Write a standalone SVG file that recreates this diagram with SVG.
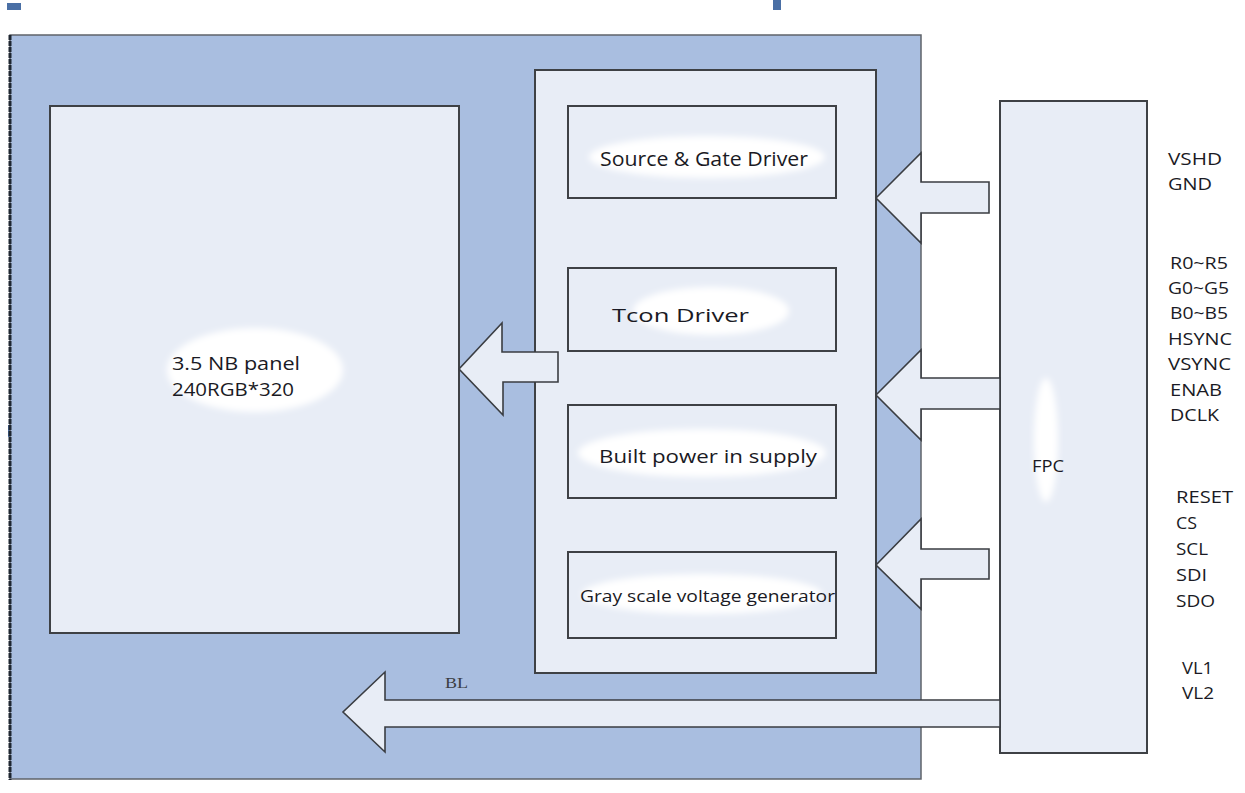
<svg xmlns="http://www.w3.org/2000/svg" width="1245" height="793" viewBox="0 0 1245 793">
  <style>
    .box { fill: #e8edf6; stroke: #3e4145; stroke-width: 2; }
    .arrow { fill: #e8edf6; stroke: #3a3d42; stroke-width: 1.6; stroke-linejoin: miter; }
    .lbl { font-family: "Open Sans", "Noto Sans", "DejaVu Sans", sans-serif; fill: #1a1a24; }
    .pin { font-family: "Open Sans", "Noto Sans", "DejaVu Sans", sans-serif; font-size: 16px; fill: #1a1a24; }
    .smudge { fill: #ffffff; filter: url(#soft); }
  </style>
  <defs>
    <filter id="soft" x="-20%" y="-50%" width="140%" height="200%">
      <feGaussianBlur stdDeviation="3"/>
    </filter>
  </defs>

  <rect x="0" y="0" width="1245" height="793" fill="#ffffff"/>

  <!-- small page markers -->
  <rect x="7" y="3" width="14" height="7" fill="#4a6fa5"/>
  <rect x="773" y="0" width="8" height="10" fill="#4a6fa5"/>
  <rect x="8" y="425" width="12" height="12" fill="#4a6fa5"/>

  <!-- module frame -->
  <g id="module">
    <rect x="10" y="35" width="911" height="744" fill="#a9bee0" stroke="#5f636a" stroke-width="1.5"/>
    <line x1="10" y1="35" x2="10" y2="780" stroke="#1e2630" stroke-width="3" stroke-dasharray="5 1"/>
  </g>

  <!-- LCD panel -->
  <g id="panel">
    <rect class="box" x="50" y="106" width="409" height="527"/>
    <ellipse class="smudge" cx="255" cy="370" rx="88" ry="42"/>
    <text class="lbl" x="172" y="370" font-size="18" textLength="128" lengthAdjust="spacingAndGlyphs">3.5 NB panel</text>
    <text class="lbl" x="172" y="396" font-size="18" textLength="122" lengthAdjust="spacingAndGlyphs">240RGB*320</text>
  </g>

  <!-- driver IC -->
  <g id="driver-ic">
    <rect class="box" x="535" y="70" width="341" height="603"/>
  </g>

  <g id="source-gate">
    <rect class="box" x="568" y="106" width="268" height="92"/>
    <ellipse class="smudge" cx="707" cy="157" rx="118" ry="21"/>
    <text class="lbl" x="600" y="166" font-size="20" textLength="208" lengthAdjust="spacingAndGlyphs">Source &amp; Gate Driver</text>
  </g>

  <g id="tcon">
    <rect class="box" x="568" y="268" width="268" height="83"/>
    <ellipse class="smudge" cx="711" cy="311" rx="78" ry="24"/>
    <text class="lbl" x="612" y="322" font-size="19" textLength="137" lengthAdjust="spacingAndGlyphs">Tcon Driver</text>
  </g>

  <g id="power">
    <rect class="box" x="568" y="405" width="268" height="93"/>
    <ellipse class="smudge" cx="702" cy="453" rx="124" ry="24"/>
    <text class="lbl" x="599" y="463" font-size="19" textLength="218" lengthAdjust="spacingAndGlyphs">Built power in supply</text>
  </g>

  <g id="gray-scale">
    <rect class="box" x="568" y="552" width="268" height="86"/>
    <ellipse class="smudge" cx="702" cy="594" rx="120" ry="20"/>
    <text class="lbl" x="580" y="602" font-size="17" textLength="255" lengthAdjust="spacingAndGlyphs">Gray scale voltage generator</text>
  </g>

  <!-- flex connector -->
  <g id="fpc">
    <rect class="box" x="1000" y="101" width="147" height="652"/>
    <ellipse class="smudge" cx="1046" cy="440" rx="12" ry="62"/>
    <text class="lbl" x="1032" y="472" font-size="17" textLength="32" lengthAdjust="spacingAndGlyphs">FPC</text>
  </g>

  <!-- block arrows -->
  <g id="connectors">
    <polygon class="arrow" points="876,198 921,153 921,182 989,182 989,213 921,213 921,243"/>
    <polygon class="arrow" points="876,395 921,350 921,378 1000,378 1000,409 921,409 921,440"/>
    <polygon class="arrow" points="876,565 921,519 921,549 989,549 989,579 921,579 921,609"/>
    <polygon class="arrow" points="558,352 502,352 502,323 459,369 503,415 503,382 558,382"/>
    <polygon class="arrow" points="1000,700 385,700 385,672 343,712 385,752 385,727 1000,727"/>
    <text x="445" y="688" font-family="Liberation Serif, serif" font-size="14" fill="#3a3d42" textLength="23" lengthAdjust="spacingAndGlyphs">BL</text>
  </g>

  <!-- interface pins -->
  <g id="pins">
    <text class="pin" x="1168" y="165" textLength="54" lengthAdjust="spacingAndGlyphs">VSHD</text>
    <text class="pin" x="1168" y="190" textLength="44" lengthAdjust="spacingAndGlyphs">GND</text>
    <text class="pin" x="1170" y="269" textLength="58" lengthAdjust="spacingAndGlyphs">R0~R5</text>
    <text class="pin" x="1168" y="294" textLength="61" lengthAdjust="spacingAndGlyphs">G0~G5</text>
    <text class="pin" x="1170" y="319" textLength="58" lengthAdjust="spacingAndGlyphs">B0~B5</text>
    <text class="pin" x="1168" y="345" textLength="64" lengthAdjust="spacingAndGlyphs">HSYNC</text>
    <text class="pin" x="1168" y="370" textLength="63" lengthAdjust="spacingAndGlyphs">VSYNC</text>
    <text class="pin" x="1170" y="396" textLength="52" lengthAdjust="spacingAndGlyphs">ENAB</text>
    <text class="pin" x="1170" y="421" textLength="49" lengthAdjust="spacingAndGlyphs">DCLK</text>
    <text class="pin" x="1176" y="503" textLength="57" lengthAdjust="spacingAndGlyphs">RESET</text>
    <text class="pin" x="1176" y="529" textLength="21" lengthAdjust="spacingAndGlyphs">CS</text>
    <text class="pin" x="1176" y="555" textLength="32" lengthAdjust="spacingAndGlyphs">SCL</text>
    <text class="pin" x="1176" y="581" textLength="31" lengthAdjust="spacingAndGlyphs">SDI</text>
    <text class="pin" x="1176" y="607" textLength="39" lengthAdjust="spacingAndGlyphs">SDO</text>
    <text class="pin" x="1182" y="674" textLength="31" lengthAdjust="spacingAndGlyphs">VL1</text>
    <text class="pin" x="1182" y="699" textLength="32" lengthAdjust="spacingAndGlyphs">VL2</text>
  </g>
</svg>
